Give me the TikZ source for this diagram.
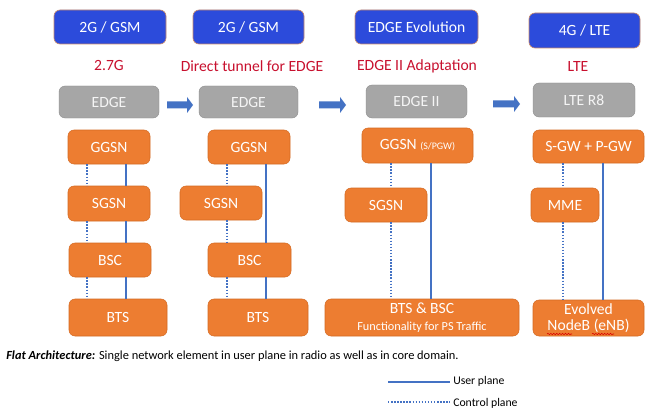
\documentclass[tikz,border=0pt]{standalone}
\usepackage{fontspec}
\setmainfont{Carlito}
\usetikzlibrary{decorations.pathmorphing}
\definecolor{hdrblue}{HTML}{2C4BDB}
\definecolor{hdredge}{HTML}{C98A6A}
\definecolor{labred}{HTML}{C8102E}
\definecolor{boxgray}{HTML}{A6A6A6}
\definecolor{boxorange}{HTML}{ED7D31}
\definecolor{orangeedge}{HTML}{D46A22}
\definecolor{lineblue}{HTML}{4472C4}
\tikzset{
  base/.style={rounded corners=4.5pt, inner sep=0pt, align=center,
    text=white, font=\fontsize{11.7}{13.5}\selectfont},
  header/.style={base, fill=hdrblue, draw=hdredge, line width=0.5pt},
  gen/.style={text=labred, font=\fontsize{11.7}{13.5}\selectfont, inner sep=0pt},
  release/.style={base, fill=boxgray, draw=boxgray!85!black, line width=0.3pt, text=white!92!gray},
  element/.style={base, fill=boxorange, draw=orangeedge, line width=0.4pt},
  userplane/.style={draw=lineblue, line width=1.6pt},
  ctrlplane/.style={draw=lineblue, line width=1.7pt, dash pattern=on 1.1pt off 1.2pt},
  legendtext/.style={anchor=west, inner sep=0pt, font=\fontsize{8.8}{10}\selectfont},
}
% block arrow: start x, tip x, centre y
\newcommand{\blockarrow}[3]{%
  \fill[lineblue] (#1,#3-3.5) -- (#2-6,#3-3.5) -- (#2-6,#3-8) -- (#2,#3)
    -- (#2-6,#3+8) -- (#2-6,#3+3.5) -- (#1,#3+3.5) -- cycle;}
\begin{document}
\begin{tikzpicture}[x=0.75pt, y=-0.75pt]
\useasboundingbox[fill=white] (0,0) rectangle (664,410);

% generation headers
\node[header, minimum width=112*0.75pt, minimum height=34*0.75pt] (h1) at (110,27) {2G / GSM};
\node[header, minimum width=111*0.75pt, minimum height=34*0.75pt] (h2) at (248.5,27) {2G / GSM};
\node[header, minimum width=123*0.75pt, minimum height=34*0.75pt] (h3) at (416.5,27) {EDGE Evolution};
\node[header, minimum width=111*0.75pt, minimum height=35*0.75pt] (h4) at (584.5,30.5) {4G / LTE};

% step labels
\node[gen] (l1) at (109,66) {2.7G};
\node[gen] (l2) at (252,66) {Direct tunnel for EDGE};
\node[gen] (l3) at (417,66) {EDGE II Adaptation};
\node[gen] (l4) at (578,66) {LTE};

% releases
\node[release, minimum width=100*0.75pt, minimum height=32*0.75pt] (r1) at (109,102) {EDGE};
\node[release, minimum width=99*0.75pt, minimum height=32*0.75pt] (r2) at (248.5,102) {EDGE};
\node[release, minimum width=101*0.75pt, minimum height=33*0.75pt] (r3) at (416.5,101.5) {EDGE II};
\node[release, minimum width=102*0.75pt, minimum height=34*0.75pt] (r4) at (584,100) {LTE R8};

\blockarrow{167}{193}{105}
\blockarrow{319}{346}{105}
\blockarrow{493}{520}{104}

% column 1
\node[element, minimum width=82*0.75pt, minimum height=34*0.75pt] (ggsn1) at (109,147) {GGSN};
\node[element, minimum width=82*0.75pt, minimum height=35*0.75pt] (sgsn1) at (109,203.5) {SGSN};
\node[element, minimum width=82*0.75pt, minimum height=34*0.75pt] (bsc1) at (110,260) {BSC};
\node[element, minimum width=98*0.75pt, minimum height=37*0.75pt] (bts1) at (118,317.5) {BTS};
\coordinate (c1) at (87,0);
\coordinate (u1) at (126,0);
\draw[ctrlplane] (ggsn1.south -| c1) -- (sgsn1.north -| c1);
\draw[ctrlplane] (sgsn1.south -| c1) -- (bsc1.north -| c1);
\draw[ctrlplane] (bsc1.south -| c1) -- (bts1.north -| c1);
\draw[userplane] (ggsn1.south -| u1) -- (sgsn1.north -| u1);
\draw[userplane] (sgsn1.south -| u1) -- (bsc1.north -| u1);
\draw[userplane] (bsc1.south -| u1) -- (bts1.north -| u1);

% column 2
\node[element, minimum width=82*0.75pt, minimum height=34*0.75pt] (ggsn2) at (249,147) {GGSN};
\node[element, minimum width=82*0.75pt, minimum height=34*0.75pt] (sgsn2) at (221,203) {SGSN};
\node[element, minimum width=83*0.75pt, minimum height=34*0.75pt] (bsc2) at (249.5,260) {BSC};
\node[element, minimum width=100*0.75pt, minimum height=37*0.75pt] (bts2) at (258,317.5) {BTS};
\coordinate (c2) at (227,0);
\coordinate (u2) at (266,0);
\draw[ctrlplane] (ggsn2.south -| c2) -- (sgsn2.north -| c2);
\draw[ctrlplane] (sgsn2.south -| c2) -- (bsc2.north -| c2);
\draw[ctrlplane] (bsc2.south -| c2) -- (bts2.north -| c2);
\draw[userplane] (ggsn2.south -| u2) -- (bsc2.north -| u2);
\draw[userplane] (bsc2.south -| u2) -- (bts2.north -| u2);

% column 3
\node[element, minimum width=111*0.75pt, minimum height=35*0.75pt] (ggsn3) at (417.5,145.5)
  {GGSN {\fontsize{7.5}{9}\selectfont(S/PGW)}};
\node[element, minimum width=82*0.75pt, minimum height=34*0.75pt] (sgsn3) at (386,205) {SGSN};
\node[element, minimum width=194*0.75pt, minimum height=37*0.75pt] (btsbsc) at (422,317.5)
  {BTS \& BSC\\[-1pt]{\fontsize{9.2}{11}\selectfont Functionality for PS Traffic}};
\coordinate (c3) at (391,0);
\coordinate (u3) at (431,0);
\draw[ctrlplane] (ggsn3.south -| c3) -- (sgsn3.north -| c3);
\draw[ctrlplane] (sgsn3.south -| c3) -- (btsbsc.north -| c3);
\draw[userplane] (ggsn3.south -| u3) -- (btsbsc.north -| u3);

% column 4
\node[element, minimum width=111*0.75pt, minimum height=33*0.75pt] (sgw) at (588.5,146.5) {S-GW + P-GW};
\node[element, minimum width=68*0.75pt, minimum height=34*0.75pt] (mme) at (565,205) {MME};
\node[element, minimum width=111*0.75pt, minimum height=36*0.75pt] (enb) at (588.5,318)
  {Evolved\\[-1.5pt]NodeB (eNB)};
\coordinate (c4) at (563,0);
\coordinate (u4) at (603,0);
\draw[ctrlplane] (sgw.south -| c4) -- (mme.north -| c4);
\draw[ctrlplane] (mme.south -| c4) -- (enb.north -| c4);
\draw[userplane] (sgw.south -| u4) -- (enb.north -| u4);
% spell-check squiggles
\draw[red!85!black, line width=0.4pt, decorate, decoration={snake, amplitude=0.5pt, segment length=2.2pt}]
  (547,334) -- (572,334);
\draw[red!85!black, line width=0.4pt, decorate, decoration={snake, amplitude=0.5pt, segment length=2.2pt}]
  (592,334) -- (614,334);

% caption
\node[anchor=west, inner sep=0pt, font=\fontsize{9.3}{11}\selectfont] (cap) at (6,356)
  {\textbf{\textit{Flat Architecture:}} Single network element in user plane in radio as well as in core domain.};

% legend
\coordinate (lu0) at (388,382);
\coordinate (lu1) at (450,382);
\coordinate (lc0) at (388,402);
\coordinate (lc1) at (450,402);
\draw[userplane] (lu0) -- (lu1);
\draw[ctrlplane, line width=1.3pt] (lc0) -- (lc1);
\node[legendtext] (lut) at (453,381) {User plane};
\node[legendtext] (lct) at (453,403) {Control plane};
\end{tikzpicture}
\end{document}
